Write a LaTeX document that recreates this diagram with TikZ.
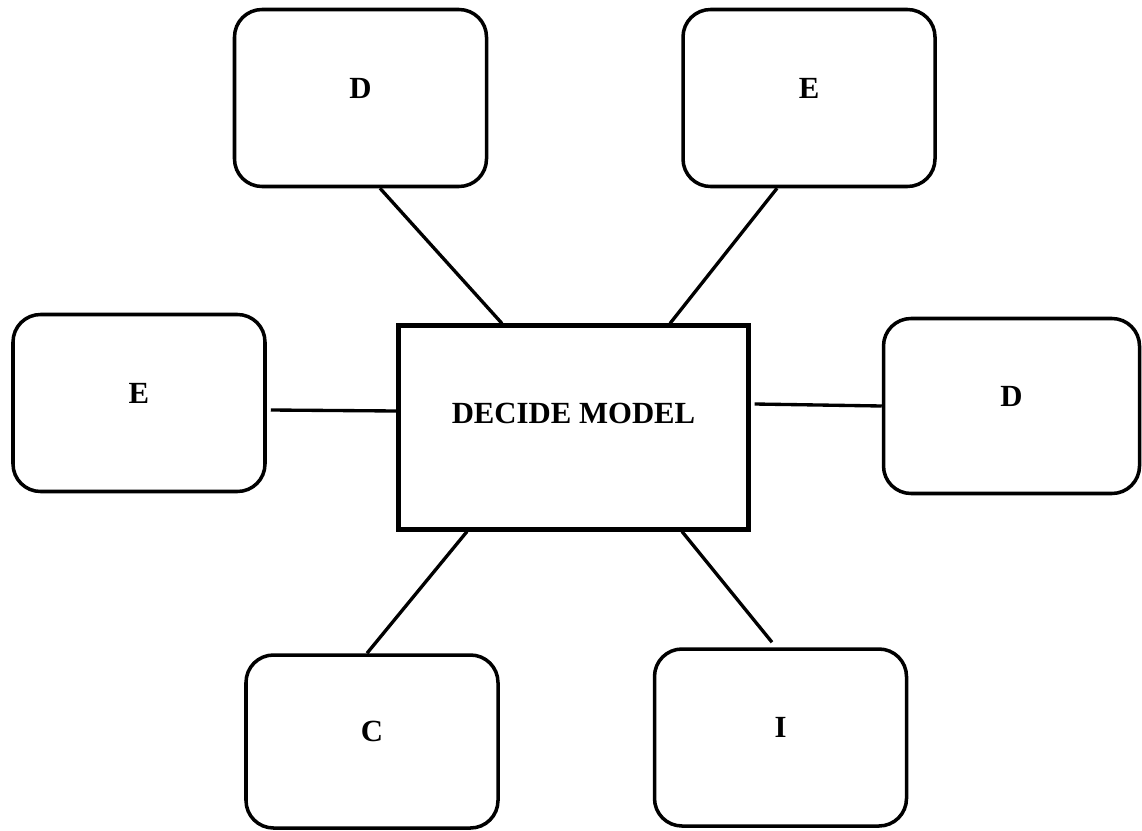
\documentclass[tikz,border=0pt]{standalone}
\usepackage{fontspec}
\setmainfont{Liberation Serif}
\usepackage{tikz}
\usetikzlibrary{calc, positioning}

\begin{document}
\begin{tikzpicture}[
    box/.style={draw, line width=2pt, rounded corners=0.55cm, minimum width=5.04cm, minimum height=3.54cm,
        text height=0.41cm, text depth=0.4cm, font=\fontsize{17.5}{21}\selectfont\bfseries},
    core/.style={draw, line width=2.3pt, minimum width=7cm, minimum height=4.08cm,
        text height=0.41cm, text depth=0.58cm, font=\fontsize{17.5}{21}\selectfont\bfseries},
    link/.style={line width=1.9pt}
]
    \useasboundingbox (0,0) rectangle (22.84,-16.6);
    \node[core] (dm) at (11.47,-8.55) {DECIDE MODEL};
    \node[box] (d1) at (7.21,-1.96) {D};
    \node[box] (e1) at (16.18,-1.96) {E};
    \node[box] (e2) at (2.78,-8.06) {E};
    \node[box, minimum width=5.12cm, minimum height=3.5cm] (d2) at (20.23,-8.12) {D};
    \node[box, minimum height=3.46cm] (c1) at (7.44,-14.83) {C};
    \node[box] (i1) at (15.61,-14.75) {I};
    \coordinate (iend) at ($(i1.north)+(-0.17,0.1)$);
    \draw[link] ($(d1.south)+(0.39,0)$) -- ($(dm.north)+(-1.43,0)$);
    \draw[link] ($(e1.south)+(-0.64,0)$) -- ($(dm.north)+(1.93,0)$);
    \draw[link] ($(e2.east)+(0.08,-0.14)$) -- ($(dm.west)+(0,0.33)$);
    \draw[link] ($(dm.east)+(0.08,0.47)$) -- (d2.west);
    \draw[link] ($(dm.south)+(-2.13,0)$) -- ($(c1.north)+(-0.1,0)$);
    \draw[link] ($(dm.south)+(2.17,0)$) -- (iend);
\end{tikzpicture}
\end{document}
